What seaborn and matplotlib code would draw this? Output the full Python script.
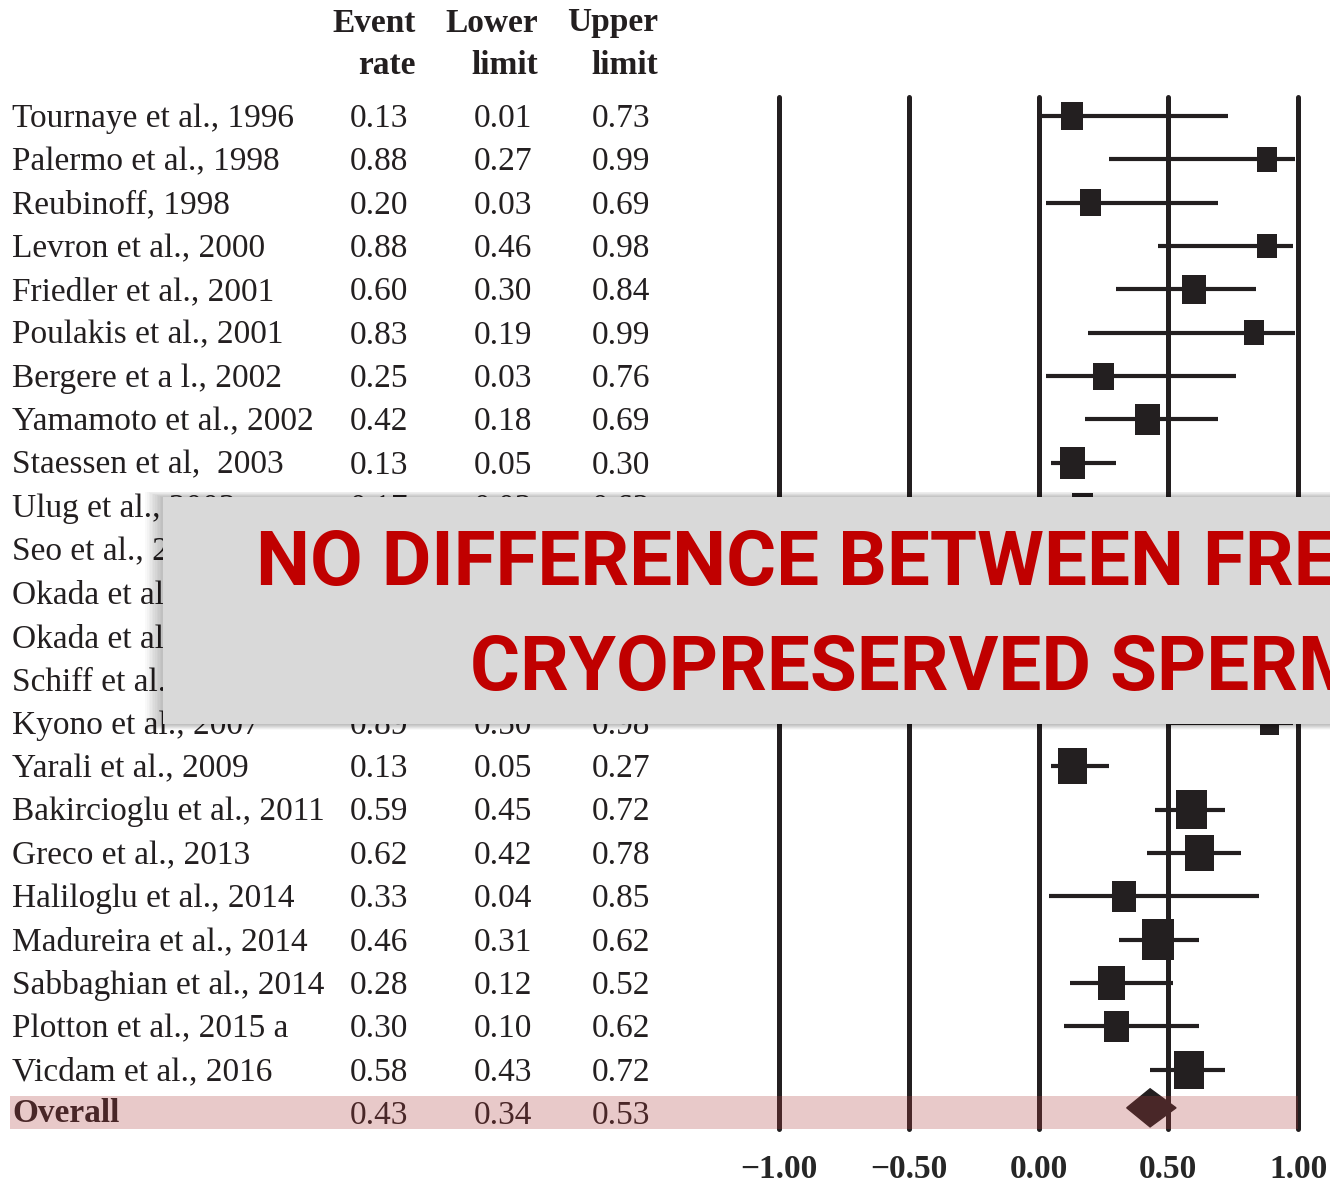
import numpy as np
import pandas as pd
import matplotlib
matplotlib.use("Agg")
import matplotlib.pyplot as plt
import seaborn as sns
from matplotlib.patches import Rectangle
from matplotlib.transforms import blended_transform_factory

# ---------------- data ----------------
studies = ["Tournaye et al., 1996", "Palermo et al., 1998", "Reubinoff, 1998",
           "Levron et al., 2000", "Friedler et al., 2001", "Poulakis et al., 2001",
           "Bergere et a l., 2002", "Yamamoto et al., 2002", "Staessen et al,  2003",
           "Ulug et al., 2003", "Seo et al., 2005", "Okada et al., 2002",
           "Okada et al., 2002", "Schiff et al., 2005", "Kyono et al., 2007",
           "Yarali et al., 2009", "Bakircioglu et al., 2011", "Greco et al., 2013",
           "Haliloglu et al., 2014", "Madureira et al., 2014", "Sabbaghian et al., 2014",
           "Plotton et al., 2015 a", "Vicdam et al., 2016"]
event_rate = [0.13, 0.88, 0.20, 0.88, 0.60, 0.83, 0.25, 0.42, 0.13, 0.17, 0.50, 0.40,
              0.45, 0.33, 0.89, 0.13, 0.59, 0.62, 0.33, 0.46, 0.28, 0.30, 0.58]
lower_limit = [0.01, 0.27, 0.03, 0.46, 0.30, 0.19, 0.03, 0.18, 0.05, 0.03, 0.22, 0.15,
               0.20, 0.10, 0.50, 0.05, 0.45, 0.42, 0.04, 0.31, 0.12, 0.10, 0.43]
upper_limit = [0.73, 0.99, 0.69, 0.98, 0.84, 0.99, 0.76, 0.69, 0.30, 0.62, 0.78, 0.71,
               0.73, 0.67, 0.98, 0.27, 0.72, 0.78, 0.85, 0.62, 0.52, 0.62, 0.72]
weights = [3.4, 2.8, 3.4, 2.8, 4.0, 2.8, 3.4, 4.6, 4.6, 3.4, 4.0, 3.4, 4.0, 3.4, 2.8,
           6.0, 6.8, 6.0, 4.3, 7.6, 5.3, 4.3, 6.8]
overall_label = "Overall"
overall = [0.43, 0.34, 0.53]
x_ticks = [-1.00, -0.50, 0.00, 0.50, 1.00]
col_headers = [("Event", "rate"), ("Lower", "limit"), ("Upper", "limit")]
banner_lines = ["NO DIFFERENCE BETWEEN FRESH AND", "CRYOPRESERVED SPERM"]

df = pd.DataFrame({"study": studies, "rate": event_rate, "lo": lower_limit,
                   "hi": upper_limit, "w": weights})
df["row"] = np.arange(len(df))
overall_row = len(df)

# ---------------- figure ----------------
sns.set_style("white")
W, H = 1330, 1181
fig = plt.figure(figsize=(W / 100, H / 100), dpi=100)
ink = "#231f20"
serif = ["Liberation Serif", "DejaVu Serif"]

def fx(px):
    return px / W

def fy(py):
    return 1 - py / H

ax_top, ax_bot = 97, 1129
ax = fig.add_axes([fx(779), fy(ax_bot), fx(1298) - fx(779), (ax_bot - ax_top) / H])
row_px0, row_step = 116, 43.35
ax.set_xlim(-1, 1)
ax.set_ylim((ax_bot - row_px0) / row_step, (ax_top - row_px0) / row_step)
for s in ax.spines.values():
    s.set_visible(False)
ax.set_yticks([])
ax.set_xticks(x_ticks)
ax.set_xticklabels([f"{t:.2f}".replace("-", "\u2212") for t in x_ticks],
                   fontfamily=serif, fontweight="bold", fontsize=24)
ax.tick_params(axis="x", length=0, pad=18)
ax.patch.set_alpha(0)

# vertical reference lines
for t in x_ticks:
    ax.axvline(t, color=ink, lw=3.6, clip_on=False, zorder=1)

# CI lines
ax.hlines(df["row"], df["lo"], df["hi"], color=ink, lw=3.0, zorder=2)
# squares (size ~ weight)
box = [(-0.8, -1), (0.8, -1), (0.8, 1), (-0.8, 1)]
sns.scatterplot(data=df, x="rate", y="row", marker=box, s=df["w"] * 112.0,
                color=ink, edgecolor="none", linewidth=0, ax=ax, zorder=3, legend=False)
ax.set_xlabel("")
ax.set_ylabel("")

# overall diamond
r0 = overall_row - 0.12
ax.fill([overall[1], overall[0], overall[2], overall[0]],
        [r0, r0 - 0.44, r0, r0 + 0.44], color=ink, zorder=3, clip_on=False)

# ---------------- table text ----------------
tr = blended_transform_factory(fig.transFigure, ax.transData)
num_right = [408, 532, 650]
head_right = [416, 538, 658]
dy = 0.06
for i, row in df.iterrows():
    ax.text(fx(12), row["row"] + dy, row["study"], transform=tr, ha="left", va="center",
            fontfamily=serif, fontsize=24, color=ink, clip_on=False)
    for xr, v in zip(num_right, [row["rate"], row["lo"], row["hi"]]):
        ax.text(fx(xr), row["row"] + dy, f"{v:.2f}", transform=tr, ha="right", va="center",
                fontfamily=serif, fontsize=24, color=ink, clip_on=False)

ax.text(fx(12), overall_row - 0.0, overall_label, transform=tr, ha="left", va="center",
        fontfamily=serif, fontsize=24, fontweight="bold", color=ink, clip_on=False)
for xr, v in zip(num_right, overall):
    ax.text(fx(xr), overall_row + dy, f"{v:.2f}", transform=tr, ha="right", va="center",
            fontfamily=serif, fontsize=24, color=ink, clip_on=False)

for xr, (h1, h2) in zip(head_right, col_headers):
    ax.text(fx(xr), fy(23), h1, transform=fig.transFigure, ha="right", va="center",
            fontfamily=serif, fontsize=24, fontweight="bold", color=ink)
    ax.text(fx(xr), fy(66), h2, transform=fig.transFigure, ha="right", va="center",
            fontfamily=serif, fontsize=24, fontweight="bold", color=ink)

# overall highlight band (drawn over, semi-transparent)
fig.add_artist(Rectangle((fx(10), fy(1129)), fx(1298) - fx(10), (1129 - 1096) / H,
                         transform=fig.transFigure, facecolor="#af3d3d", alpha=0.28,
                         edgecolor="none", zorder=5))

# ---------------- banner ----------------
bx0, by0, by1 = 163, 497, 724
for k in range(1, 12):
    fig.add_artist(Rectangle((fx(bx0 - 1.6 * k), fy(by1 + 0.5 * k)),
                             fx(W + 40) - fx(bx0 - 1.6 * k), (by1 - by0 + k) / H,
                             transform=fig.transFigure, facecolor="black",
                             alpha=0.025, edgecolor="none", zorder=9))
fig.add_artist(Rectangle((fx(bx0), fy(by1)), fx(W + 40) - fx(bx0), (by1 - by0) / H,
                         transform=fig.transFigure, facecolor="#d9d9d9",
                         edgecolor="none", zorder=10))
banner_font = ["Roboto", "Open Sans", "DejaVu Sans"]
fig.text(fx(256), fy(585), banner_lines[0], ha="left", va="baseline",
         fontfamily=banner_font, fontweight="bold", fontsize=55, color="#c00000", zorder=11)
fig.text(fx(470), fy(690), banner_lines[1], ha="left", va="baseline",
         fontfamily=banner_font, fontweight="bold", fontsize=55, color="#c00000", zorder=11)

fig.savefig("out.png", dpi=100)
